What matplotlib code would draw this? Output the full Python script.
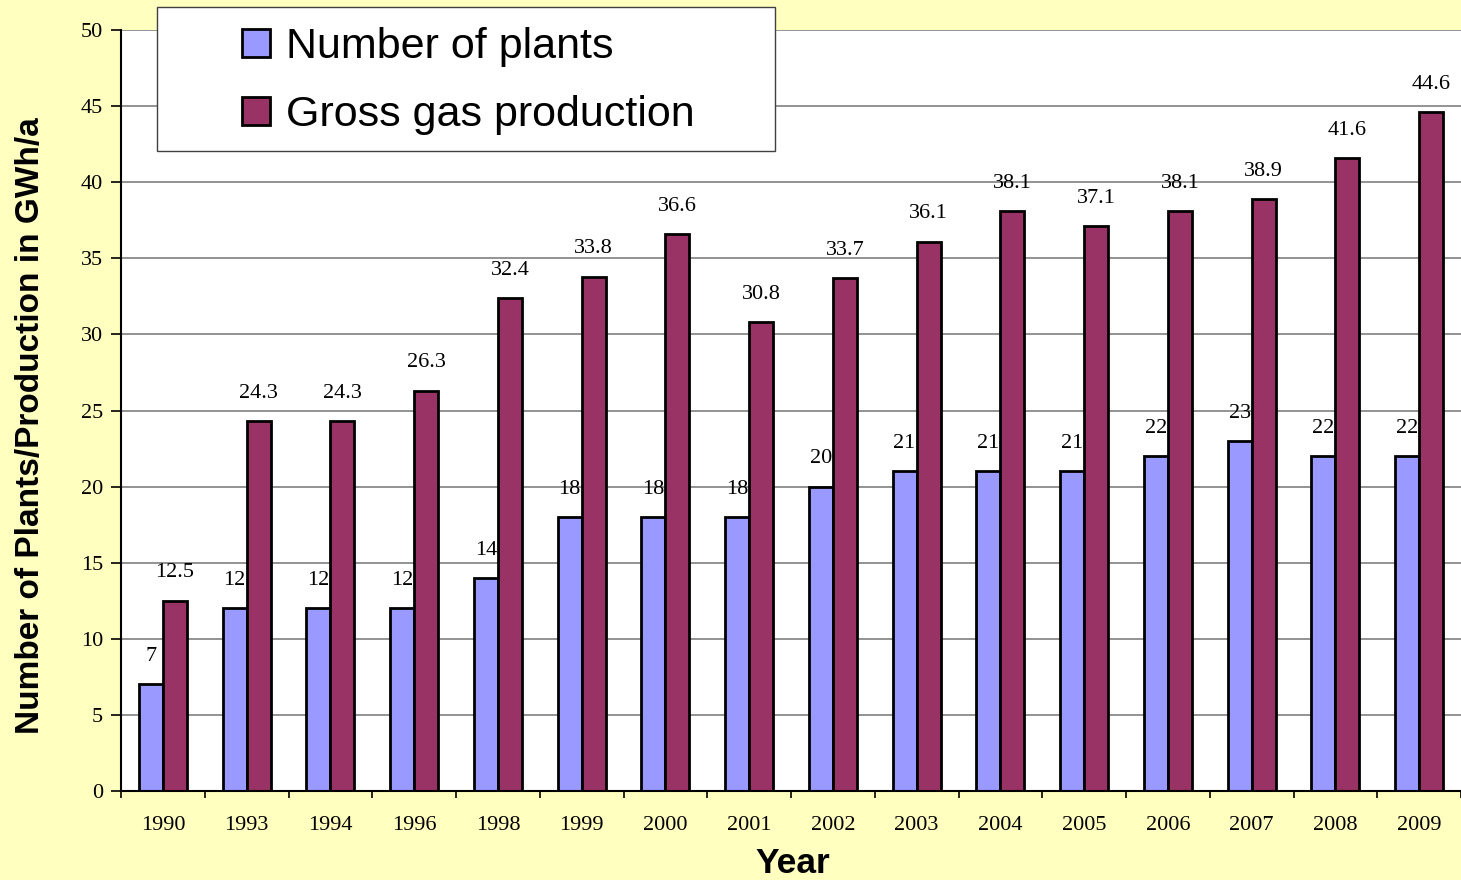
import matplotlib
matplotlib.use("Agg")
import matplotlib.pyplot as plt
import numpy as np
from matplotlib.patches import Rectangle, Patch

years = ["1990", "1993", "1994", "1996", "1998", "1999", "2000", "2001",
         "2002", "2003", "2004", "2005", "2006", "2007", "2008", "2009"]
plants = [7, 12, 12, 12, 14, 18, 18, 18, 20, 21, 21, 21, 22, 23, 22, 22]
production = [12.5, 24.3, 24.3, 26.3, 32.4, 33.8, 36.6, 30.8, 33.7, 36.1,
              38.1, 37.1, 38.1, 38.9, 41.6, 44.6]
series_names = ["Number of plants", "Gross gas production"]
colors = ["#9999FF", "#993366"]

W, H = 1461, 880
fig = plt.figure(figsize=(W / 100, H / 100), dpi=100)
fig.patch.set_facecolor("#FFFFC0")
ax = fig.add_axes([121 / W, 1 - 791 / H, 1 - 121 / W, (791 - 30) / H])
ax.set_facecolor("white")

x = np.arange(len(years))
bw = 0.287
serif = ["Liberation Serif", "DejaVu Serif"]
sans = ["Liberation Sans", "DejaVu Sans"]

ax.bar(x - bw / 2, plants, bw, color=colors[0], edgecolor="black", linewidth=2, zorder=2)
ax.bar(x + bw / 2, production, bw, color=colors[1], edgecolor="black", linewidth=2, zorder=4)
for xi, v in zip(x, plants):
    ax.text(xi - bw / 2, v + 1.2, f"{v:g}", ha="center", va="bottom", fontsize=16,
            family=serif, zorder=3)
for xi, v in zip(x, production):
    ax.text(xi + bw / 2, v + 1.2, f"{v:g}", ha="center", va="bottom", fontsize=16,
            family=serif, zorder=5)

ax.set_xlim(-0.5, len(years) - 0.5)
ax.set_ylim(0, 50)
ax.set_yticks(np.arange(0, 51, 5))
ax.yaxis.grid(True, color="#808080", linewidth=1.2, zorder=0)
ax.set_axisbelow(True)
ax.set_xticks(x)
ax.set_xticklabels(years, family=serif, fontsize=16)
ax.set_xticks(np.arange(-0.5, len(years), 1), minor=True)
ax.tick_params(axis="x", which="major", length=0, pad=18)
ax.tick_params(axis="x", which="minor", length=5, width=1.2, color="black")
ax.tick_params(axis="y", length=7, width=1.2, pad=6)
for lab in ax.get_yticklabels():
    lab.set_family(serif)
    lab.set_fontsize(16)
for s in ["top", "right"]:
    ax.spines[s].set_visible(False)
for s in ["left", "bottom"]:
    ax.spines[s].set_linewidth(1.5)
    ax.spines[s].set_zorder(6)

fig.text(31 / W, 1 - 425.5 / H, "Number of Plants/Production in GWh/a", family=sans,
         fontsize=24, fontweight="bold", rotation=90, ha="center", va="center")
fig.text(793 / W, 1 - 863 / H, "Year", family=sans, fontsize=25.5, fontweight="bold",
         ha="center", va="center")

fig.patches.append(Rectangle((157 / W, 1 - 151 / H), (775 - 157) / W, (151 - 7) / H,
                             transform=fig.transFigure, facecolor="white",
                             edgecolor="#404040", linewidth=1, zorder=10))
handles = [Patch(facecolor=c, edgecolor="black", linewidth=2) for c in colors]
leg = fig.legend(handles, series_names, loc="upper left",
                 bbox_to_anchor=(212 / W, 1 + 3 / H), frameon=False,
                 prop={"family": sans, "size": 31}, handlelength=0.65,
                 handleheight=0.65, handletextpad=0.36, labelspacing=0.65,
                 borderpad=0.2)
leg.set_zorder(11)

fig.savefig("out.png", dpi=100, facecolor=fig.get_facecolor())
